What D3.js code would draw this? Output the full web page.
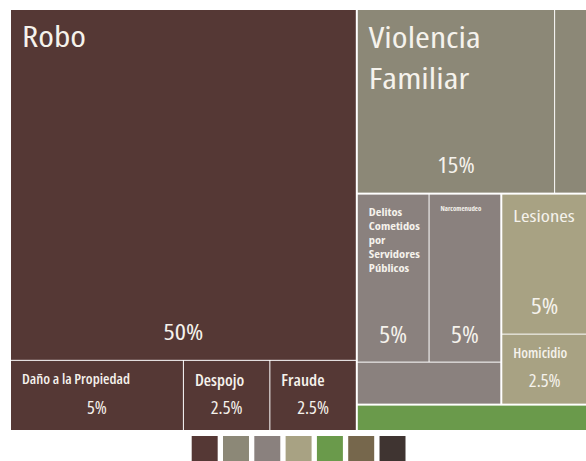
<!DOCTYPE html>
<html><head><meta charset="utf-8">
<script src="https://cdn.jsdelivr.net/npm/d3@7"></script>
<style>
html,body{margin:0;padding:0;background:#fff;overflow:hidden;}
svg{display:block;}
text{font-family:"Open Sans","DejaVu Sans Condensed",sans-serif;font-stretch:75%;fill:#f5f2ec;}
</style></head><body>
<div id="chart"></div>
<script>
// ---- data ----
const categories = ["Robo","Daño a la Propiedad","Despojo","Fraude",
  "Violencia Familiar","Otros (VF)",
  "Delitos Cometidos por Servidores Públicos","Narcomenudeo","Otros (SP)",
  "Lesiones","Homicidio","Otros"];
const values = [50,5,2.5,2.5, 15,2.5, 5,5,2.5, 5,2.5, 2.5];
const pctLabels = ["50%","5%","2.5%","2.5%","15%","","5%","5%","","5%","2.5%",""];
const showName = [true,true,true,true,true,false,true,true,false,true,true,false];
const groupOf = [0,0,0,0, 1,1, 2,2,2, 3,3, 4];
const groupIds = ["g1","g2","g3","g4","g5","g6","g7"];
const groupColors = ["#553835","#8c8877","#8a817e","#a8a283","#6a9a4b","#76674c","#3f3431"];

// nesting of cells (indices into categories)
const layoutSpec = [[0,[1,2,3]], [[4,5],[[[6,7],8],[9,10]],[11]]];

// ---- label styles (by category) ----
// ns/nw/nsx: name size, weight, horizontal scale; ps/psx: percent label
const S = {
  "Robo":{ns:29.5,nw:500,nsx:1.21,ndy:37,lh:40,ps:22,psx:1.2,pdy:-20},
  "Violencia Familiar":{ns:29.5,nw:500,nsx:1.22,ndy:38,lh:41.5,ps:22,psx:1.13,pdy:-20},
  "Delitos Cometidos por Servidores Públicos":{ns:10.4,nw:700,nsx:1.2,ndy:21,lh:14.2,ps:23,psx:1.12,pdy:-19},
  "Narcomenudeo":{ns:6.5,nw:700,nsx:1.05,ndy:16,lh:7,ps:23,psx:1.12,pdy:-19},
  "Lesiones":{ns:17,nw:500,nsx:1.22,ndy:27,lh:20,ps:22,psx:1.15,pdy:-20},
  "Homicidio":{ns:14.5,nw:600,nsx:1,ndy:23,lh:16,ps:18,psx:1.02,pdy:-16.5},
  "Daño a la Propiedad":{ns:14,nw:600,nsx:1.05,ndy:23,lh:16,ps:18,psx:1.02,pdy:-16.5},
  "Despojo":{ns:16,nw:600,nsx:1.04,ndy:25,lh:18,ps:18,psx:1.02,pdy:-16.5},
  "Fraude":{ns:16,nw:600,nsx:1.06,ndy:25,lh:18,ps:18,psx:1.02,pdy:-16.5}
};

const W = 600, H = 461;
const X0 = 11, Y0 = 10, TW = 576, TH = 420;

function build(spec){
  if (typeof spec === "number") return {name: categories[spec], value: values[spec], idx: spec};
  return {children: spec.map(build)};
}
const root = d3.hierarchy(build(layoutSpec)).sum(d => d.value || 0);
const nGroups = n => new Set(n.leaves().map(l => groupOf[l.data.idx])).size;

d3.treemap()
  .tile(d3.treemapSliceDice)
  .size([TW, TH])
  .paddingInner(n => nGroups(n) > 1 ? 2 : 1)
  .round(false)(root);

const color = d3.scaleOrdinal().domain(groupIds).range(groupColors);

const svg = d3.select("#chart").append("svg").attr("width", W).attr("height", H);
const g = svg.append("g").attr("transform", `translate(${X0},${Y0})`);

const leaf = g.selectAll("g.leaf").data(root.leaves()).join("g").attr("class","leaf");
leaf.append("rect")
  .attr("x", d => d.x0).attr("y", d => d.y0)
  .attr("width", d => d.x1 - d.x0).attr("height", d => d.y1 - d.y0)
  .attr("fill", d => color(groupIds[groupOf[d.data.idx]]));

leaf.each(function(d){
  const i = d.data.idx, name = categories[i], st = S[name];
  if (!st) return;
  const sel = d3.select(this);
  if (showName[i]) {
    const t = sel.append("text")
      .attr("transform", `translate(${d.x0 + 11},${d.y0 + st.ndy}) scale(${st.nsx},1)`)
      .attr("font-size", st.ns).attr("font-weight", st.nw);
    // word wrap to cell width
    const maxW = (d.x1 - d.x0 - 20) / st.nsx;
    const words = name.split(" ");
    let line = [];
    let ts = t.append("tspan").attr("x", 0).attr("dy", 0);
    for (const w of words) {
      line.push(w);
      ts.text(line.join(" "));
      if (ts.node().getComputedTextLength() > maxW && line.length > 1) {
        line.pop(); ts.text(line.join(" "));
        line = [w];
        ts = t.append("tspan").attr("x", 0).attr("dy", st.lh).text(w);
      }
    }
  }
  if (pctLabels[i]) {
    sel.append("text")
      .attr("transform", `translate(${(d.x0 + d.x1) / 2},${d.y1 + st.pdy}) scale(${st.psx},1)`)
      .attr("text-anchor", "middle")
      .attr("font-size", st.ps).attr("font-weight", 500)
      .text(pctLabels[i]);
  }
});

// legend
const lx = d3.scaleBand().domain(groupIds).range([191.7, 405.5]).paddingInner(0.17).paddingOuter(0);
svg.append("g").selectAll("rect").data(groupIds).join("rect")
  .attr("x", d => lx(d)).attr("y", 436)
  .attr("width", lx.bandwidth()).attr("height", lx.bandwidth())
  .attr("fill", d => color(d));
</script>
</body></html>
